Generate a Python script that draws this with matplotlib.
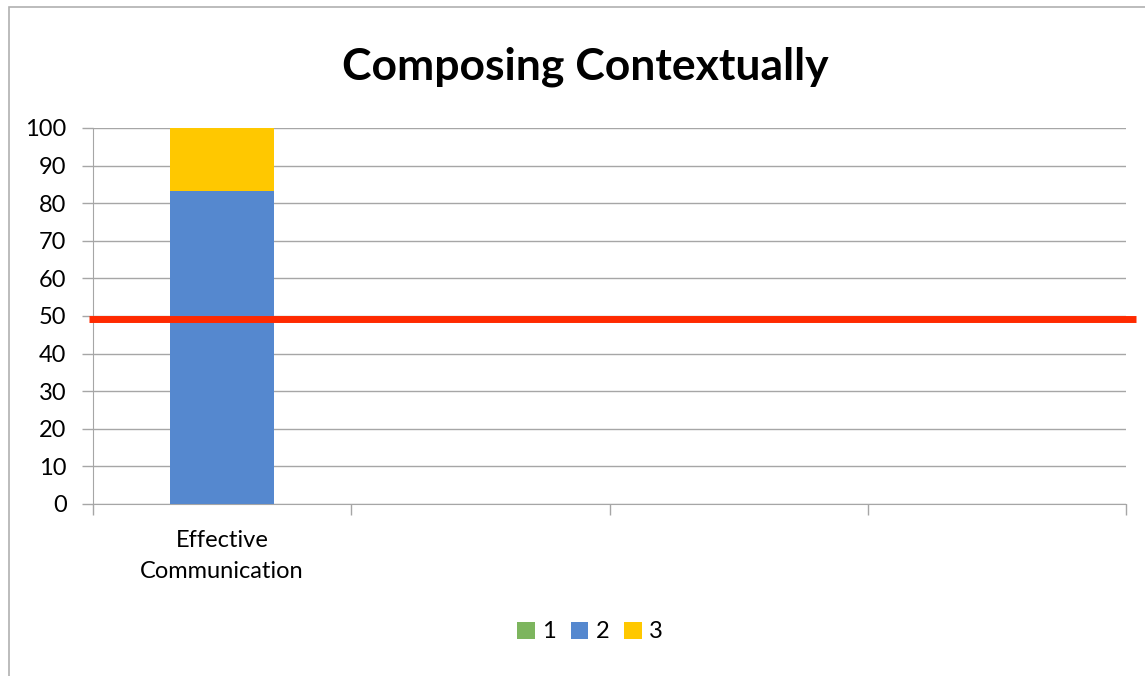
import matplotlib.pyplot as plt
from matplotlib.patches import Rectangle

plt.rcParams['font.family'] = ['Lato', 'DejaVu Sans']

categories = ["Effective\nCommunication", "", "", ""]
series_names = ["1", "2", "3"]
series_1 = [0, 0, 0, 0]
series_2 = [83.33, 0, 0, 0]
series_3 = [16.67, 0, 0, 0]
target = 49.2
colors = ["#7db55e", "#5588cf", "#ffc800"]

fig = plt.figure(figsize=(11.45, 6.76), dpi=100)
ax = fig.add_axes([93 / 1145, 1 - 504 / 676, 1033 / 1145, 376 / 676])

x = list(range(len(categories)))
bottom = [0] * len(categories)
for name, vals, c in zip(series_names, [series_1, series_2, series_3], colors):
    ax.bar(x, vals, width=0.4, bottom=bottom, color=c, label=name, zorder=3)
    bottom = [b + v for b, v in zip(bottom, vals)]

ax.set_xlim(-0.5, 3.5)
ax.set_ylim(0, 100)
ax.set_yticks(range(0, 101, 10))
ax.set_xticks(x)
ax.set_xticklabels(categories, fontsize=17, linespacing=1.55)
ax.set_xticks([-0.5, 0.5, 1.5, 2.5, 3.5], minor=True)
ax.tick_params(axis="x", which="major", length=0, pad=19)
ax.tick_params(axis="x", which="minor", length=8, color="#a6a6a6", width=1)
ax.tick_params(axis="y", length=8, color="#a6a6a6", width=1, labelsize=17, pad=11)
ax.grid(axis="y", color="#a6a6a6", linewidth=1, zorder=0)
for s in ["top", "right"]:
    ax.spines[s].set_visible(False)
for s in ["left", "bottom"]:
    ax.spines[s].set_color("#a6a6a6")

# target line runs a little past the plot area
ax.plot([-0.5155, 3.539], [target, target], color="#ff2a00", linewidth=5,
        solid_capstyle="butt", clip_on=False, zorder=4)

fig.text(585 / 1145, 1 - 67 / 676, "Composing Contextually", ha="center", va="center",
         fontsize=32, fontweight="bold")

fig.legend(loc="center", bbox_to_anchor=(590 / 1145, 1 - 632 / 676), ncol=3, frameon=False,
           fontsize=17, handlelength=0.75, handleheight=0.75, handletextpad=0.3, columnspacing=0.65)

fig.patches.append(Rectangle((9 / 1145, -0.1), 1.2, 1 - 7 / 676 + 0.1, transform=fig.transFigure,
                             fill=False, edgecolor="#b0b0b0", linewidth=1.2))

fig.savefig("out.png", dpi=100)
